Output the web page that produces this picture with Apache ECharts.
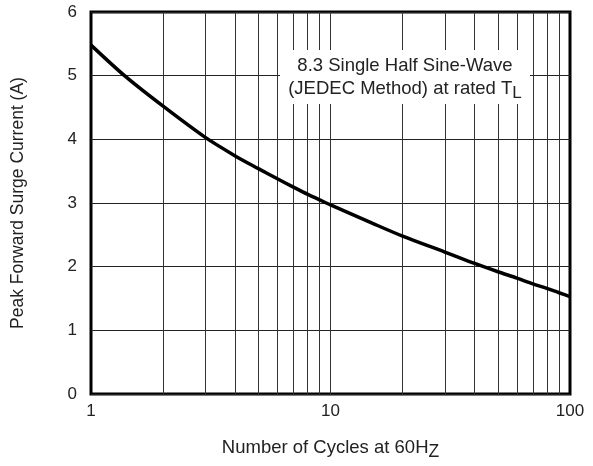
<!DOCTYPE html>
<html>
<head>
<meta charset="utf-8">
<script src="https://cdn.jsdelivr.net/npm/echarts@6/dist/echarts.min.js"></script>
<style>
  html, body { margin: 0; padding: 0; background: #fff; }
  #chart { width: 593px; height: 466px; }
</style>
</head>
<body>
<div id="chart"></div>
<script>
// number of cycles (log axis) and peak surge current
var cycles = [1, 1.4, 2, 3, 4, 5, 6, 7, 8, 9, 10, 15, 20, 30, 40, 50, 60, 70, 80, 90, 100]
var surgeAmps = [5.48, 4.98, 4.52, 4.03, 3.74, 3.54, 3.38, 3.25, 3.14, 3.05, 2.97, 2.68, 2.48, 2.23, 2.05, 1.92, 1.82, 1.73, 1.66, 1.59, 1.53]
// vertical grid lines of the log paper
var gridCycles = [2, 3, 4, 5, 6, 7, 8, 9, 10, 20, 30, 40, 50, 60, 70, 80, 90]
var yTicks = [0, 1, 2, 3, 4, 5, 6]

var font = 'Liberation Sans, Arial, sans-serif'
var chart = echarts.init(document.getElementById('chart'))

chart.setOption({
  animation: false,
  grid: {
    left: 91, right: 23, top: 12, bottom: 70,
    show: true, borderColor: '#000', borderWidth: 3, backgroundColor: 'transparent'
  },
  xAxis: {
    type: 'log',
    logBase: 10,
    min: 1,
    max: 100,
    axisLine: { show: false },
    axisTick: { show: false },
    splitLine: { show: false },
    axisLabel: { color: '#222', fontSize: 17, fontFamily: font, margin: 9 },
    name: 'Number of Cycles at 60H{sub|Z}',
    nameLocation: 'middle',
    nameGap: 40,
    nameTextStyle: {
      color: '#222', fontSize: 18.5, fontFamily: font,
      rich: { sub: { fontSize: 17.5, fontFamily: font, color: '#222', padding: [9, 0, 0, 0] } }
    }
  },
  yAxis: {
    type: 'value',
    min: yTicks[0],
    max: yTicks[yTicks.length - 1],
    interval: 1,
    axisLine: { show: false },
    axisTick: { show: false },
    splitLine: { show: true, lineStyle: { color: '#222', width: 1 } },
    axisLabel: { color: '#222', fontSize: 17, fontFamily: font, margin: 14 },
    name: 'Peak Forward Surge Current (A)',
    nameLocation: 'middle',
    nameGap: 64,
    nameTextStyle: { color: '#222', fontSize: 17.5, fontFamily: font }
  },
  series: [
    {
      type: 'line',
      data: cycles.map(function (c, i) { return [c, surgeAmps[i]] }),
      smooth: 0.3,
      showSymbol: false,
      lineStyle: { color: '#000', width: 3.5 },
      z: 5,
      markLine: {
        silent: true,
        symbol: 'none',
        label: { show: false },
        lineStyle: { color: '#333', width: 1, type: 'solid' },
        data: gridCycles.map(function (c) { return { xAxis: c } })
      }
    }
  ],
  // white label box over the grid
  graphic: [
    {
      type: 'rect',
      left: 280,
      top: 50,
      z: 100,
      shape: { width: 250, height: 54 },
      style: { fill: '#fff' }
    },
    {
      type: 'text',
      x: 405,
      y: 77,
      z: 101,
      style: {
        text: '8.3 Single Half Sine-Wave\n(JEDEC Method) at rated T{sub|L}',
        align: 'center',
        verticalAlign: 'middle',
        fill: '#222',
        fontSize: 18.5,
        fontFamily: font,
        lineHeight: 23,
        rich: { sub: { fontSize: 17, fontFamily: font, fill: '#222', padding: [9, 0, 0, 0] } }
      }
    }
  ]
})
</script>
</body>
</html>
